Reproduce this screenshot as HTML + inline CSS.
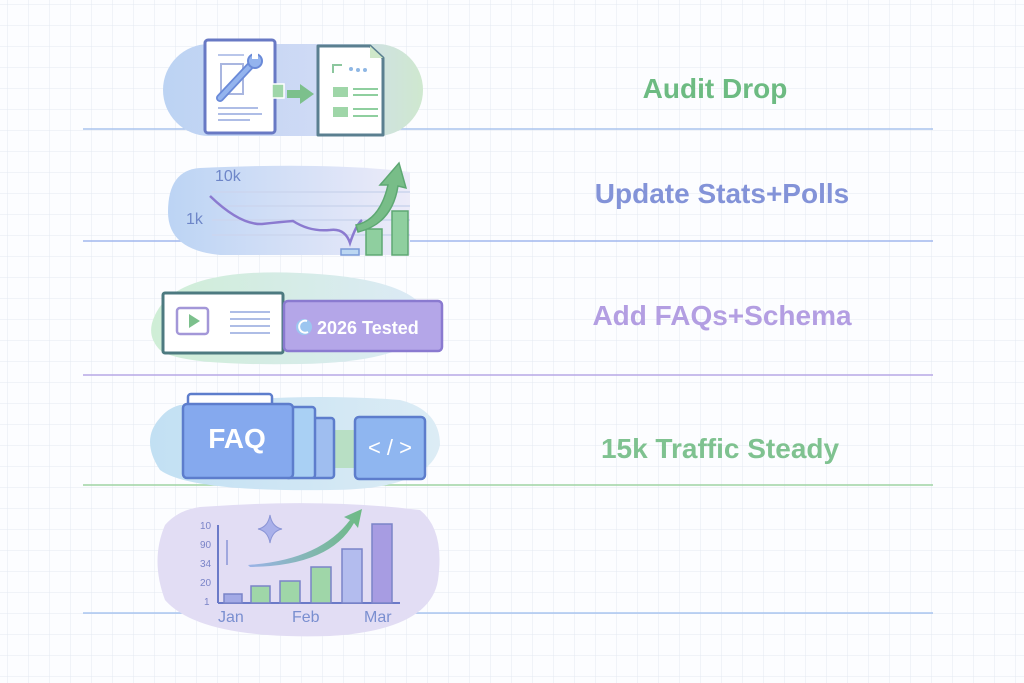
<!DOCTYPE html>
<html><head><meta charset="utf-8"><style>
html,body{margin:0;padding:0;background:#fff;}
svg{display:block}
text{font-family:"Liberation Sans",sans-serif;}
</style></head><body>
<svg width="1024" height="683" viewBox="0 0 1024 683" xmlns="http://www.w3.org/2000/svg">
<defs>
<pattern id="g" width="21" height="21" patternUnits="userSpaceOnUse" x="8" y="5">
<path d="M21 0V21M0 21H21" fill="none" stroke="#e3e9f2" stroke-width="1"/>
</pattern>
<linearGradient id="b1" x1="0" x2="1"><stop offset="0" stop-color="#bcd3f3"/><stop offset="0.6" stop-color="#cfdaf5"/><stop offset="1" stop-color="#cfe8cf"/></linearGradient>
<linearGradient id="b2" x1="0" x2="1"><stop offset="0" stop-color="#bcd4f4"/><stop offset="1" stop-color="#ecebf9"/></linearGradient>
<linearGradient id="b3" x1="0" x2="1"><stop offset="0" stop-color="#cfeed6"/><stop offset="1" stop-color="#dceaf7"/></linearGradient>
<linearGradient id="b4" x1="0" x2="1"><stop offset="0" stop-color="#c2e0f3"/><stop offset="1" stop-color="#dcecf5"/></linearGradient>
<linearGradient id="arr" x1="0" x2="1"><stop offset="0" stop-color="#9bb3e8"/><stop offset="1" stop-color="#6dba84"/></linearGradient>
</defs>
<rect width="1024" height="683" fill="#fcfdff"/>
<rect width="1024" height="683" fill="url(#g)"/>

<line x1="83" y1="129" x2="933" y2="129" stroke="#a9c3ee" stroke-width="1.5"/>
<line x1="83" y1="241" x2="933" y2="241" stroke="#a2b8ee" stroke-width="1.5"/>
<line x1="83" y1="375" x2="933" y2="375" stroke="#b7a8e6" stroke-width="1.5"/>
<line x1="83" y1="485" x2="933" y2="485" stroke="#9fd3a3" stroke-width="1.5"/>
<line x1="83" y1="613" x2="933" y2="613" stroke="#a9c6f0" stroke-width="1.5"/>

<text x="715" y="98" text-anchor="middle" font-size="28" font-weight="bold" fill="#6dbb82">Audit Drop</text>
<text x="722" y="203" text-anchor="middle" font-size="28" font-weight="bold" fill="#8393d8">Update Stats+Polls</text>
<text x="722" y="325" text-anchor="middle" font-size="28" font-weight="bold" fill="#b39ee2">Add FAQs+Schema</text>
<text x="720" y="458" text-anchor="middle" font-size="28" font-weight="bold" fill="#7fc290">15k Traffic Steady</text>

<!-- row 1 -->
<rect x="163" y="44" width="260" height="92" rx="46" fill="url(#b1)"/>
<rect x="205" y="40" width="70" height="93" rx="3" fill="#fff" stroke="#6879c4" stroke-width="3"/>
<rect x="221" y="64" width="22" height="30" fill="none" stroke="#a9b6e0" stroke-width="2"/>
<line x1="218" y1="55" x2="244" y2="55" stroke="#b9c6ea" stroke-width="2"/>
<path d="M220 98 L250 66" stroke="#6a8ad8" stroke-width="8" stroke-linecap="round"/>
<path d="M220 98 L250 66" stroke="#94b4ee" stroke-width="4.5" stroke-linecap="round"/>
<circle cx="255" cy="61" r="7" fill="#94b4ee" stroke="#6a8ad8" stroke-width="2"/>
<rect x="252" y="52" width="6" height="7" fill="#fff"/>
<line x1="218" y1="108" x2="258" y2="108" stroke="#aebde6" stroke-width="2"/>
<line x1="218" y1="114" x2="262" y2="114" stroke="#aebde6" stroke-width="2"/>
<line x1="218" y1="120" x2="250" y2="120" stroke="#aebde6" stroke-width="2"/>
<rect x="272" y="84" width="12" height="14" fill="#9fd6a8" stroke="#fff" stroke-width="1.5"/>
<path d="M287 90 H300 V84 L314 94 L300 104 V98 H287 Z" fill="#7cc08c"/>
<path d="M318 46 H370 L383 58 V135 H318 Z" fill="#fff" stroke="#5a7f90" stroke-width="3" stroke-linejoin="round"/>
<path d="M370 46 V58 H383 Z" fill="#cfe8c9"/>
<path d="M333 73 V65 H342" fill="none" stroke="#8cc79e" stroke-width="2"/>
<circle cx="351" cy="69" r="2" fill="#8fb7e4"/><circle cx="358" cy="70" r="2" fill="#8fb7e4"/><circle cx="365" cy="70" r="2" fill="#8fb7e4"/>
<rect x="333" y="87" width="15" height="10" fill="#9fd6a8"/>
<rect x="333" y="107" width="15" height="10" fill="#9fd6a8"/>
<line x1="353" y1="89" x2="378" y2="89" stroke="#8fcf9f" stroke-width="2"/>
<line x1="353" y1="95" x2="378" y2="95" stroke="#8fcf9f" stroke-width="2"/>
<line x1="353" y1="109" x2="378" y2="109" stroke="#8fcf9f" stroke-width="2"/>
<line x1="353" y1="116" x2="378" y2="116" stroke="#8fcf9f" stroke-width="2"/>

<!-- row 2 -->
<path d="M200 168 Q330 162 410 172 V255 H220 Q168 250 168 212 Q168 170 200 168Z" fill="url(#b2)"/>
<text x="215" y="181" font-size="16" fill="#6e86c8">10k</text>
<text x="186" y="224" font-size="16" fill="#6e86c8">1k</text>
<g stroke="#cbd5ee" stroke-width="1.5">
<line x1="212" y1="192" x2="410" y2="192"/><line x1="212" y1="206" x2="410" y2="206"/>
<line x1="212" y1="220" x2="410" y2="220"/><line x1="212" y1="235" x2="410" y2="235"/></g>
<path d="M210 196 Q240 225 262 224 Q280 222 293 221 Q310 232 330 230 Q345 228 350 243 Q356 225 362 220" fill="none" stroke="#8b7ad0" stroke-width="2.5"/>
<rect x="341" y="249" width="18" height="6" fill="#bcd7f2" stroke="#7a9ad8" stroke-width="1.5"/>
<rect x="366" y="229" width="16" height="26" fill="#8fcf9f" stroke="#5ea873" stroke-width="1.5"/>
<rect x="392" y="211" width="16" height="44" fill="#8fcf9f" stroke="#5ea873" stroke-width="1.5"/>
<path d="M356 225 Q380 220 388 185 L380 185 L399 163 L406 188 L398 186 Q392 224 358 232 Z" fill="#78bd88" stroke="#5ea873" stroke-width="1.5"/>

<!-- row 3 -->
<path d="M165 300 Q200 268 300 273 Q420 278 430 320 Q420 362 300 364 Q180 366 160 350 Q140 330 165 300Z" fill="url(#b3)"/>
<rect x="163" y="293" width="120" height="60" rx="2" fill="#fff" stroke="#4d7a80" stroke-width="3"/>
<rect x="177" y="308" width="31" height="26" rx="3" fill="#fff" stroke="#a397d8" stroke-width="2.5"/>
<path d="M189 314 L200 321 L189 328Z" fill="#7cc08c"/>
<line x1="230" y1="312" x2="270" y2="312" stroke="#aebde6" stroke-width="2"/>
<line x1="230" y1="319" x2="270" y2="319" stroke="#aebde6" stroke-width="2"/>
<line x1="230" y1="326" x2="270" y2="326" stroke="#aebde6" stroke-width="2"/>
<line x1="230" y1="333" x2="270" y2="333" stroke="#aebde6" stroke-width="2"/>
<rect x="284" y="301" width="158" height="50" rx="4" fill="#b4a6e8" stroke="#8a7ad0" stroke-width="2.5"/>
<circle cx="304" cy="327" r="8" fill="#9cc6f0"/>
<path d="M307 321 A6 6 0 1 0 308 332" fill="none" stroke="#fff" stroke-width="2"/>
<text x="317" y="334" font-size="18" font-weight="bold" fill="#fff">2026 Tested</text>

<!-- row 4 -->
<path d="M180 405 Q300 392 400 400 Q440 410 440 445 Q430 490 330 490 Q190 492 160 470 Q140 440 160 418 Q168 408 180 405Z" fill="url(#b4)"/>
<rect x="330" y="430" width="30" height="38" fill="#b8dfc4"/>
<rect x="310" y="418" width="24" height="60" rx="3" fill="#9fbef0" stroke="#5d7dcc" stroke-width="2.5"/>
<rect x="285" y="407" width="30" height="71" rx="3" fill="#a9d0f4" stroke="#5d7dcc" stroke-width="2.5"/>
<rect x="188" y="394" width="84" height="15" rx="3" fill="#fff" stroke="#5d7dcc" stroke-width="2.5"/>
<rect x="183" y="404" width="110" height="74" rx="4" fill="#85a9ee" stroke="#5d7dcc" stroke-width="2.5"/>
<text x="237" y="448" text-anchor="middle" font-size="28" font-weight="bold" fill="#fff">FAQ</text>
<rect x="355" y="417" width="70" height="62" rx="4" fill="#8fb6f0" stroke="#5d7dcc" stroke-width="2.5"/>
<text x="390" y="455" text-anchor="middle" font-size="22" fill="#fff">&lt; / &gt;</text>

<!-- row 5 -->
<path d="M200 507 Q320 498 420 510 Q445 530 438 580 Q430 630 330 636 Q200 640 165 600 Q150 560 165 525 Q178 510 200 507Z" fill="#e2ddf4"/>
<g font-size="10" fill="#7a84c8">
<text x="200" y="529">10</text><text x="200" y="548">90</text><text x="200" y="567">34</text><text x="200" y="586">20</text><text x="204" y="605">1</text></g>
<line x1="218" y1="525" x2="218" y2="603" stroke="#6b7ac8" stroke-width="2"/>
<line x1="218" y1="603" x2="400" y2="603" stroke="#6b7ac8" stroke-width="2"/>
<line x1="227" y1="540" x2="227" y2="565" stroke="#8b95d6" stroke-width="1.5"/>
<path d="M270 515 Q272 527 282 529 Q272 531 270 543 Q268 531 258 529 Q268 527 270 515Z" fill="#a9b0ea" stroke="#8b95d6"/>
<path d="M248 565 Q320 560 350 520 L344 517 L362 509 L358 528 L354 523 Q330 566 250 567Z" fill="url(#arr)"/>
<rect x="224" y="594" width="18" height="9" fill="#a3aae6" stroke="#7a84c8" stroke-width="1.5"/>
<rect x="251" y="586" width="19" height="17" fill="#9fd6a8" stroke="#7a84c8" stroke-width="1.5"/>
<rect x="280" y="581" width="20" height="22" fill="#9fd6a8" stroke="#7a84c8" stroke-width="1.5"/>
<rect x="311" y="567" width="20" height="36" fill="#9fd6a8" stroke="#7a84c8" stroke-width="1.5"/>
<rect x="342" y="549" width="20" height="54" fill="#b3bcee" stroke="#7a84c8" stroke-width="1.5"/>
<rect x="372" y="524" width="20" height="79" fill="#a79ce2" stroke="#7a84c8" stroke-width="1.5"/>
<g font-size="16" fill="#7a8fd0">
<text x="218" y="622">Jan</text><text x="292" y="622">Feb</text><text x="364" y="622">Mar</text></g>
</svg>
</body></html>
